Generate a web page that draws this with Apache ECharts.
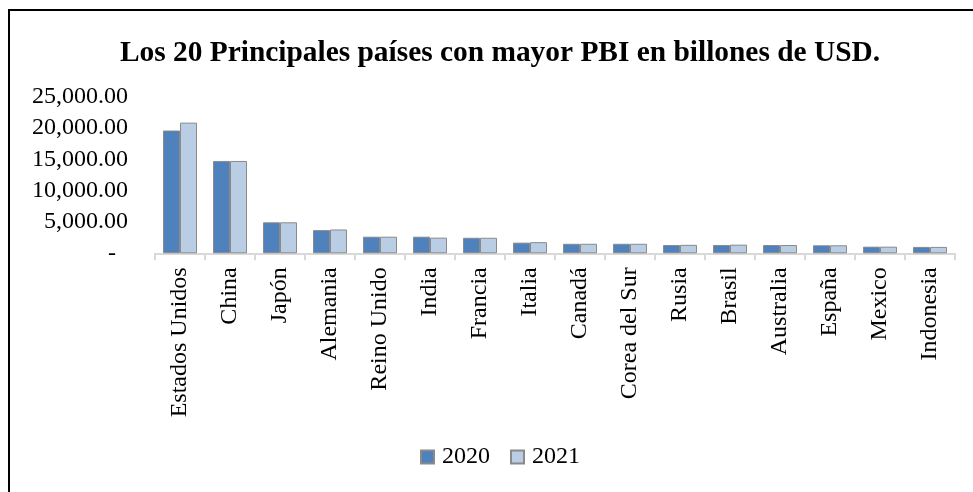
<!DOCTYPE html>
<html>
<head>
<meta charset="utf-8">
<script src="https://cdn.jsdelivr.net/npm/echarts@6/dist/echarts.min.js"></script>
<style>
html,body{margin:0;padding:0;background:#fff;}
#chart{width:973px;height:492px;}
</style>
</head>
<body>
<div id="chart"></div>
<script>
var titleText = 'Los 20 Principales países con mayor PBI en billones de USD.';
var categories = ['Estados Unidos','China','Japón','Alemania','Reino Unido','India','Francia','Italia','Canadá','Corea del Sur','Rusia','Brasil','Australia','España','Mexico','Indonesia'];
var seriesNames = ['2020','2021'];
var values2020 = [19600,14740,4950,3700,2650,2650,2480,1700,1520,1520,1320,1330,1320,1280,1060,1020];
var values2021 = [20860,14740,4950,3800,2650,2500,2480,1780,1520,1520,1350,1380,1320,1280,1060,1020];
var yTicks = {min:0, max:25000, interval:5000};

function fmt(v){
  if (v === 0) return '-  ';
  var s = Math.round(v).toString();
  s = s.replace(/\B(?=(\d{3})+(?!\d))/g, ',');
  return s + '.00';
}

var font = '"Liberation Serif","Times New Roman",serif';
var chart = echarts.init(document.getElementById('chart'));
chart.setOption({
  animation:false,
  backgroundColor:'#fff',
  textStyle:{fontFamily:font},
  graphic:[{
    type:'rect', silent:true, z:-1,
    shape:{x:9, y:10, width:1000, height:520},
    style:{fill:'none', stroke:'#000', lineWidth:2}
  }],
  title:{
    text:titleText, left:495, top:34, textAlign:'center',
    textStyle:{fontFamily:font, fontSize:29.4, fontWeight:'bold', color:'#000'}
  },
  legend:{
    data:seriesNames, left:415, top:440,
    itemWidth:13, itemHeight:13, itemGap:20,
    icon:'rect',
    textStyle:{fontFamily:font, fontSize:24, color:'#000', padding:[0,0,0,3]}
  },
  grid:{left:155, right:18, top:96.7, bottom:238.7},
  xAxis:{
    type:'category', data:categories,
    axisLine:{lineStyle:{color:'#d9d9d9', width:2}},
    axisTick:{show:true, length:7, lineStyle:{color:'#d9d9d9', width:2}},
    axisLabel:{rotate:90, margin:14, fontFamily:font, fontSize:24, color:'#000', interval:0}
  },
  yAxis:{
    type:'value', min:yTicks.min, max:yTicks.max, interval:yTicks.interval,
    axisLine:{show:false}, axisTick:{show:false}, splitLine:{show:false},
    axisLabel:{formatter:fmt, margin:27, fontFamily:font, fontSize:24, color:'#000'}
  },
  series:[
    {name:seriesNames[0], type:'bar', data:values2020, barGap:'0%', barCategoryGap:'32%',
     itemStyle:{color:'#4f81bd', borderColor:'#8a8a8a', borderWidth:1}},
    {name:seriesNames[1], type:'bar', data:values2021, barGap:'0%', barCategoryGap:'32%',
     itemStyle:{color:'#b9cde5', borderColor:'#8a8a8a', borderWidth:1}}
  ]
});
</script>
</body>
</html>
